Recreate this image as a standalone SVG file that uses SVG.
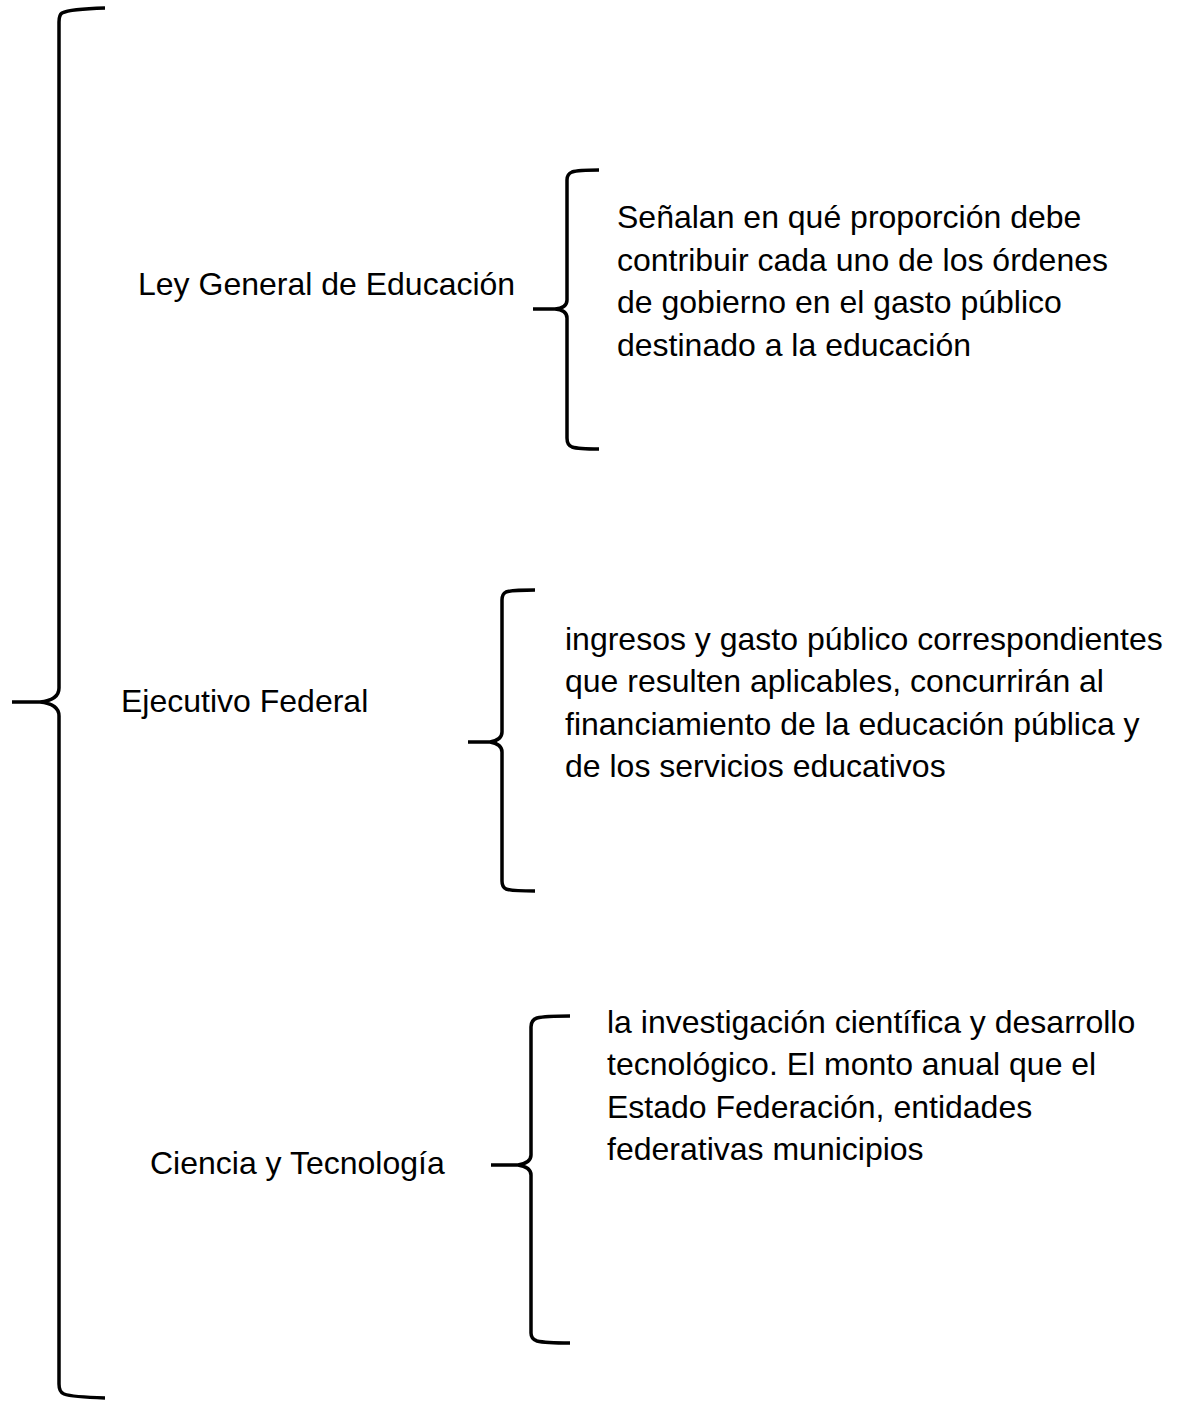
<svg xmlns="http://www.w3.org/2000/svg" width="1183" height="1401" viewBox="0 0 1183 1401">
<style>
.br{fill:none;stroke:#000;stroke-width:3.5;stroke-linecap:butt;stroke-linejoin:round}
text{font-family:"Liberation Sans",Arial,sans-serif;font-size:32px;fill:#000}
</style>
<rect width="1183" height="1401" fill="#fff"/>
<g id="connectors">
<path id="brace-main" class="br" d="M105,8 Q70,9 62,13 Q59,15 59,22 L59,688 Q59,700 40,702 L12,702 M40,702 Q59,704 59,716 L59,1384 Q59,1392 64,1394 Q72,1397 105,1398"/>
<path id="brace-1" class="br" d="M599,170 Q578,170 572,172 Q567,174 567,180 L567,300 Q567,308 555,309 L533,309 M555,309 Q567,310 567,318 L567,438 Q567,445 572,447 Q578,449 599,449"/>
<path id="brace-2" class="br" d="M535,590 Q512,590 506,592 Q502,594 502,600 L502,732 Q502,740 490,742 L468,742 M490,742 Q502,744 502,752 L502,881 Q502,887 506,889 Q512,891 535,891"/>
<path id="brace-3" class="br" d="M570,1016 Q545,1016 537,1018 Q531,1020 531,1027 L531,1155 Q531,1163 518,1165 L491,1165 M518,1165 Q531,1167 531,1175 L531,1333 Q531,1339 537,1341 Q545,1343 570,1343"/>
</g>
<g id="node-ley"><text x="138" y="295">Ley General de Educación</text></g>
<g id="node-ley-desc">
<text x="617" y="228">Señalan en qué proporción debe</text>
<text x="617" y="271">contribuir cada uno de los órdenes</text>
<text x="617" y="313">de gobierno en el gasto público</text>
<text x="617" y="356">destinado a la educación</text>
</g>
<g id="node-ejecutivo"><text x="121" y="712">Ejecutivo Federal</text></g>
<g id="node-ejecutivo-desc">
<text x="565" y="650">ingresos y gasto público correspondientes</text>
<text x="565" y="692">que resulten aplicables, concurrirán al</text>
<text x="565" y="735">financiamiento de la educación pública y</text>
<text x="565" y="777">de los servicios educativos</text>
</g>
<g id="node-ciencia"><text x="150" y="1174">Ciencia y Tecnología</text></g>
<g id="node-ciencia-desc">
<text x="607" y="1033">la investigación científica y desarrollo</text>
<text x="607" y="1075">tecnológico. El monto anual que el</text>
<text x="607" y="1118">Estado Federación, entidades</text>
<text x="607" y="1160">federativas municipios</text>
</g>
</svg>
